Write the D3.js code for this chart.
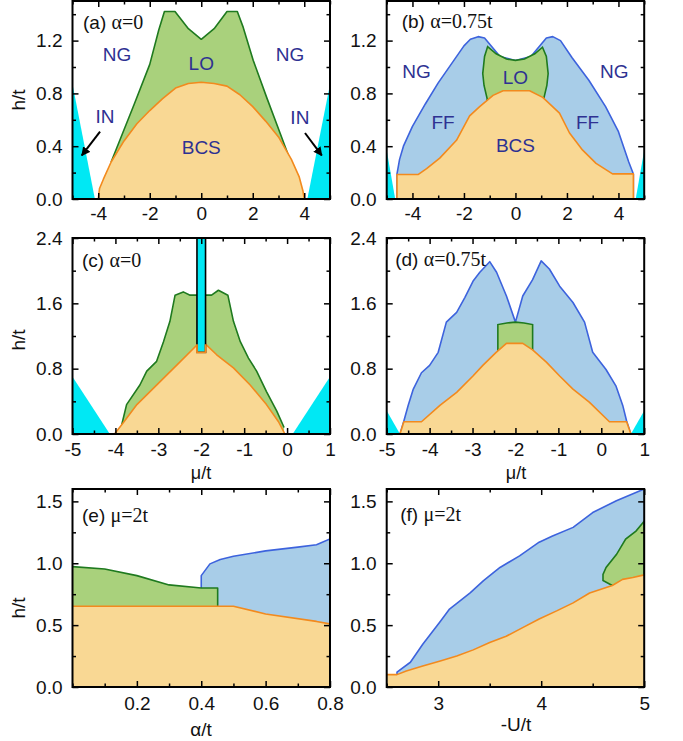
<!DOCTYPE html>
<html>
<head>
<meta charset="utf-8">
<script src="https://cdn.jsdelivr.net/npm/d3@7.9.0/dist/d3.min.js"></script>
<style>
  body { margin: 0; background: #fff; }
  text { font-family: "Liberation Sans", Arial, sans-serif; }
</style>
</head>
<body>
<svg id="chart" width="683" height="741"></svg>
<script>
// ---- data: [mu (or alpha, -U), h] pairs ----
// (a) alpha = 0
const aInLeft = [[-5, 0], [-5, 0.87], [-4.13, 0]];
const aInRight = [[4.12, 0], [5, 0.87], [5, 0]];
const aLO = [[-3.5, 0.28], [-3.05, 0.5], [-2.6, 0.72], [-2.0, 1.02], [-1.65, 1.28], [-1.43, 1.42], [-1.02, 1.42],
  [-0.5, 1.29], [0, 1.21], [0.5, 1.29], [1.0, 1.42], [1.4, 1.42], [1.63, 1.3], [2.02, 1.05], [2.54, 0.77], [3.06, 0.5], [3.48, 0.28]];
const aBCS = [[-4.0, 0], [-3.95, 0.08], [-3.8, 0.15], [-3.5, 0.28], [-3.0, 0.44], [-2.5, 0.57], [-2.0, 0.67], [-1.5, 0.76],
  [-1.0, 0.84], [-0.5, 0.875], [0, 0.885], [0.5, 0.875], [1.0, 0.855], [1.5, 0.79], [2.0, 0.7], [2.5, 0.59], [3.0, 0.47],
  [3.5, 0.3], [3.8, 0.17], [3.95, 0.06], [4.0, 0]];
const aLabels = [["NG", -3.27, 1.1], ["NG", 3.45, 1.1], ["LO", 0, 1.03], ["BCS", 0, 0.39], ["IN", -3.74, 0.63], ["IN", 3.83, 0.62]];
const aArrows = [[[-3.93, 0.51], [-4.64, 0.33]], [[4.03, 0.5], [4.68, 0.33]]];

// (b) alpha = 0.75t
const bInLeft = [[-5, 0], [-5, 0.37], [-4.67, 0]];
const bInRight = [[4.67, 0], [5, 0.37], [5, 0]];
const bFF = [[-4.6, 0], [-4.6, 0.19], [-4.5, 0.3], [-4.35, 0.4], [-4.0, 0.55], [-3.5, 0.72], [-3.0, 0.88], [-2.5, 1.02],
  [-2.0, 1.16], [-1.75, 1.21], [-1.45, 1.23], [-1.2, 1.22], [-0.6, 1.08], [0, 1.05], [0.6, 1.08], [1.2, 1.22], [1.45, 1.23],
  [1.75, 1.2], [2.2, 1.07], [2.85, 0.9], [3.5, 0.7], [4.0, 0.51], [4.4, 0.28], [4.58, 0.19], [4.58, 0]];
const bLO = [[-1.1, 0.6], [-1.1, 0.76], [-1.22, 0.86], [-1.27, 0.95], [-1.2, 1.08], [-1.08, 1.155], [-0.75, 1.1],
  [-0.35, 1.06], [0, 1.05], [0.35, 1.06], [0.75, 1.1], [1.05, 1.15], [1.2, 1.08], [1.27, 0.95], [1.22, 0.86], [1.1, 0.76], [1.1, 0.6]];
const bBCS = [[-4.6, 0], [-4.6, 0.186], [-3.77, 0.186], [-3.45, 0.23], [-2.94, 0.31], [-2.29, 0.445], [-1.78, 0.63],
  [-1.39, 0.7], [-0.87, 0.785], [-0.48, 0.82], [0.55, 0.82], [1.06, 0.77], [1.71, 0.65], [2.1, 0.5], [2.61, 0.37],
  [3.13, 0.27], [3.77, 0.19], [4.58, 0.19], [4.58, 0]];
const bLabels = [["NG", -3.84, 0.97], ["NG", 3.84, 0.97], ["LO", 0, 0.92], ["FF", -2.81, 0.58], ["FF", 2.8, 0.58], ["BCS", 0, 0.41]];

// (c) alpha = 0, shifted band
const cInLeft = [[-5, 0], [-5, 0.7], [-4.13, 0]];
const cInRight = [[0.13, 0], [1, 0.7], [1, 0]];
const cLO = [[-3.85, 0.12], [-3.74, 0.36], [-3.43, 0.6], [-3.27, 0.77], [-3.04, 0.89], [-2.88, 1.13], [-2.73, 1.38],
  [-2.61, 1.7], [-2.42, 1.74], [-2.26, 1.7], [-1.76, 1.7], [-1.6, 1.76], [-1.38, 1.7], [-1.25, 1.38], [-1.09, 1.13],
  [-0.9, 0.93], [-0.71, 0.77], [-0.48, 0.52], [-0.24, 0.28], [-0.07, 0.08]];
const cBCS = [[-4.02, 0], [-3.8, 0.15], [-3.5, 0.36], [-3.0, 0.62], [-2.5, 0.88], [-2.1, 1.09], [-1.9, 1.1],
  [-1.64, 0.97], [-1.25, 0.81], [-0.86, 0.6], [-0.48, 0.36], [-0.2, 0.15], [-0.05, 0]];
const cBarMu = [-2.1, -1.9];
const cBarH = [1.0, 2.4];

// (d) alpha = 0.75t
const dInLeft = [[-5, 0], [-5, 0.285], [-4.69, 0]];
const dInRight = [[0.69, 0], [1, 0.285], [1, 0]];
const dFF = [[-4.69, 0], [-4.6, 0.16], [-4.5, 0.35], [-4.38, 0.55], [-4.19, 0.75], [-4.0, 0.84], [-3.8, 1.0],
  [-3.61, 1.37], [-3.37, 1.49], [-3.18, 1.67], [-2.99, 1.87], [-2.83, 1.98], [-2.6, 2.11], [-2.44, 1.98], [-2.21, 1.69],
  [-2.0, 1.37], [-1.83, 1.69], [-1.6, 1.89], [-1.4, 2.12], [-1.21, 2.02], [-0.97, 1.81], [-0.66, 1.61], [-0.39, 1.37],
  [-0.2, 1.0], [0.11, 0.79], [0.34, 0.59], [0.5, 0.35], [0.59, 0.16], [0.69, 0]];
const dLO = [[-2.41, 0.95], [-2.41, 1.34], [-2.2, 1.36], [-2.0, 1.37], [-1.8, 1.36], [-1.6, 1.34], [-1.6, 0.95]];
const dBCS = [[-4.69, 0], [-4.6, 0.15], [-4.19, 0.15], [-3.76, 0.35], [-3.37, 0.51], [-2.99, 0.71], [-2.76, 0.84],
  [-2.45, 1.0], [-2.21, 1.11], [-1.83, 1.11], [-1.6, 1.03], [-1.28, 0.88], [-0.97, 0.71], [-0.66, 0.55], [-0.28, 0.39],
  [0.19, 0.15], [0.59, 0.15], [0.69, 0]];

// (e) mu = 2t, vs alpha
const eFF = [[0.4, 0.8], [0.4, 0.9], [0.427, 0.995], [0.459, 1.03], [0.5, 1.056], [0.6, 1.1], [0.7, 1.13], [0.758, 1.15], [0.8, 1.196]];
const eLO = [[0, 0.973], [0.1, 0.954], [0.2, 0.9], [0.3, 0.825], [0.4, 0.8], [0.451, 0.8], [0.451, 0.653]];
const eBCS = [[0, 0.653], [0.5, 0.653], [0.6, 0.59], [0.758, 0.53], [0.8, 0.51]];

// (f) mu = 2t, vs -U
const fFF = [[2.6, 0.1], [2.6, 0.12], [2.73, 0.2], [2.85, 0.345], [3.02, 0.53], [3.11, 0.63], [3.31, 0.76], [3.44, 0.86],
  [3.6, 0.966], [3.79, 1.06], [3.98, 1.17], [4.11, 1.22], [4.31, 1.29], [4.5, 1.41], [4.73, 1.505], [5.0, 1.6]];
const fLO = [[4.69, 0.78], [4.69, 0.82], [4.6, 0.86], [4.6, 0.91], [4.63, 0.966], [4.73, 1.07], [4.82, 1.195],
  [4.92, 1.26], [5.0, 1.34], [5.0, 0.78]];
const fBCS = [[2.5, 0.1], [2.6, 0.1], [2.69, 0.13], [2.85, 0.17], [3.02, 0.21], [3.18, 0.25], [3.34, 0.3], [3.5, 0.36],
  [3.66, 0.41], [3.82, 0.48], [3.98, 0.55], [4.15, 0.615], [4.31, 0.68], [4.47, 0.76], [4.69, 0.82], [4.79, 0.87],
  [4.89, 0.885], [5.0, 0.906]];

// ---- styles ----
const C = {
  cyan: "#00e8f4",
  bcsFill: "#f9d894", bcsLine: "#f28a1e",
  loFill: "#a9d17c", loLine: "#1f7a1f",
  ffFill: "#a8cde8", ffLine: "#3d63dd",
  text: "#2e3192"
};

const svg = d3.select("#chart");
const defs = svg.append("defs");
defs.append("marker")
  .attr("id", "arrow").attr("viewBox", "0 0 10 10").attr("refX", 9).attr("refY", 5)
  .attr("markerWidth", 4.5).attr("markerHeight", 4.5).attr("orient", "auto")
  .append("path").attr("d", "M0,0L10,5L0,10z").attr("fill", "#000");

function makePanel(id, left, top, w, h, xDom, yDom) {
  const g = svg.append("g");
  const x = d3.scaleLinear().domain(xDom).range([left, left + w]);
  const y = d3.scaleLinear().domain(yDom).range([top + h, top]);
  defs.append("clipPath").attr("id", "clip-" + id)
    .append("rect").attr("x", left).attr("y", top).attr("width", w).attr("height", h);
  const plot = g.append("g").attr("clip-path", `url(#clip-${id})`);
  const line = d3.line().x(d => x(d[0])).y(d => y(d[1]));
  const area = d3.area().x(d => x(d[0])).y0(y(0)).y1(d => y(d[1]));
  return { g, plot, x, y, line, area, left, top, w, h };
}

function poly(p, pts, fill, stroke) {
  p.plot.append("path").attr("d", p.line(pts) + "Z")
    .attr("fill", fill).attr("stroke", stroke || "none").attr("stroke-width", 1.6);
}
function region(p, pts, fill, stroke) {
  p.plot.append("path").attr("d", p.area(pts)).attr("fill", fill);
  p.plot.append("path").attr("d", p.line(pts)).attr("fill", "none")
    .attr("stroke", stroke).attr("stroke-width", 1.6).attr("stroke-linejoin", "round");
}

function labels(p, list) {
  p.g.selectAll(null).data(list).join("text")
    .attr("x", d => p.x(d[1])).attr("y", d => p.y(d[2]))
    .attr("dy", "0.36em").attr("text-anchor", "middle")
    .attr("font-size", 19).attr("fill", C.text).text(d => d[0]);
}

function title(p, tag, rest, dx, base) {
  const t = p.g.append("text").attr("x", p.left + dx).attr("y", base).attr("font-size", 19).attr("fill", "#111");
  t.append("tspan").text(tag + " ");
  t.append("tspan").attr("font-family", "'Liberation Serif', 'Times New Roman', serif").attr("font-size", 20).text(rest);
}

function axes(p, o) {
  const { g, x, y } = p;
  const bottom = y.range()[0], top = y.range()[1];
  const left = x.range()[0], right = x.range()[1];
  const xMinor = d3.range(x.domain()[0], x.domain()[1] + 1e-9, o.xStep).filter(v => !o.xMajor.some(m => Math.abs(m - v) < 1e-9));
  const yMinor = d3.range(y.domain()[0], y.domain()[1] + 1e-9, o.yStep).filter(v => !o.yMajor.some(m => Math.abs(m - v) < 1e-9));
  const style = sel => {
    sel.select(".domain").remove();
    sel.selectAll("line").attr("stroke", "#000").attr("stroke-width", 1.5);
    sel.selectAll("text").attr("font-size", 19).attr("font-family", "'Liberation Sans', Arial, sans-serif").attr("fill", "#111");
  };
  const add = (axis, tx, ty) => g.append("g").attr("transform", `translate(${tx},${ty})`).call(axis).call(style);

  add(d3.axisBottom(x).tickValues(o.xMajor).tickFormat(o.xFmt).tickSize(-6).tickPadding(o.xPad), 0, bottom);
  add(d3.axisBottom(x).tickValues(xMinor).tickFormat("").tickSize(-3.5), 0, bottom);
  add(d3.axisTop(x).tickValues(o.xMajor).tickFormat("").tickSize(-6), 0, top);
  add(d3.axisTop(x).tickValues(xMinor).tickFormat("").tickSize(-3.5), 0, top);
  add(d3.axisLeft(y).tickValues(o.yMajor).tickFormat(o.yFmt).tickSize(-6).tickPadding(10), left, 0);
  add(d3.axisLeft(y).tickValues(yMinor).tickFormat("").tickSize(-3.5), left, 0);
  add(d3.axisRight(y).tickValues(o.yMajor).tickFormat("").tickSize(-6), right, 0);
  add(d3.axisRight(y).tickValues(yMinor).tickFormat("").tickSize(-3.5), right, 0);

  g.append("rect").attr("x", left).attr("y", top).attr("width", right - left).attr("height", bottom - top)
    .attr("fill", "none").attr("stroke", "#000").attr("stroke-width", 2);
}

const intFmt = d => String(d);
const oneFmt = d => d.toFixed(1);

// ---- panel geometry ----
const colL = 72.5, colR = 386.7, pw = 257.5;

// (a)
const pa = makePanel("a", colL, 1, pw, 198, [-5, 5], [0, 1.5]);
poly(pa, aInLeft, C.cyan); poly(pa, aInRight, C.cyan);
region(pa, aLO, C.loFill, C.loLine);
region(pa, aBCS, C.bcsFill, C.bcsLine);
labels(pa, aLabels);
aArrows.forEach(a => pa.g.append("line")
  .attr("x1", pa.x(a[0][0])).attr("y1", pa.y(a[0][1])).attr("x2", pa.x(a[1][0])).attr("y2", pa.y(a[1][1]))
  .attr("stroke", "#000").attr("stroke-width", 2).attr("marker-end", "url(#arrow)"));
axes(pa, { xMajor: [-4, -2, 0, 2, 4], xStep: 1, yMajor: [0, 0.4, 0.8, 1.2], yStep: 0.2, xFmt: intFmt, yFmt: oneFmt, xPad: 8 });
title(pa, "(a)", "α=0", 10.5, 29);

// (b)
const pb = makePanel("b", colR, 1, pw, 198, [-5, 5], [0, 1.5]);
poly(pb, bInLeft, C.cyan); poly(pb, bInRight, C.cyan);
region(pb, bFF, C.ffFill, C.ffLine);
poly(pb, bLO, C.loFill, C.loLine);
region(pb, bBCS, C.bcsFill, C.bcsLine);
labels(pb, bLabels);
axes(pb, { xMajor: [-4, -2, 0, 2, 4], xStep: 1, yMajor: [0, 0.4, 0.8, 1.2], yStep: 0.2, xFmt: intFmt, yFmt: oneFmt, xPad: 8 });
title(pb, "(b)", "α=0.75t", 15, 28);

// (c)
const pc = makePanel("c", colL, 238, pw, 196, [-5, 1], [0, 2.4]);
poly(pc, cInLeft, C.cyan); poly(pc, cInRight, C.cyan);
region(pc, cLO, C.loFill, C.loLine);
region(pc, cBCS, C.bcsFill, C.bcsLine);
pc.plot.append("rect")
  .attr("x", pc.x(cBarMu[0])).attr("y", pc.y(cBarH[1]))
  .attr("width", pc.x(cBarMu[1]) - pc.x(cBarMu[0])).attr("height", pc.y(cBarH[0]) - pc.y(cBarH[1]))
  .attr("fill", C.cyan).attr("stroke", "#000").attr("stroke-width", 1.6);
pc.plot.append("path")
  .attr("d", pc.line([[cBarMu[0], 1.1], [cBarMu[0], cBarH[0]], [cBarMu[1], cBarH[0]], [cBarMu[1], 1.1]]))
  .attr("fill", "none").attr("stroke", C.bcsLine).attr("stroke-width", 1.8);
axes(pc, { xMajor: [-5, -4, -3, -2, -1, 0, 1], xStep: 0.5, yMajor: [0, 0.8, 1.6, 2.4], yStep: 0.4, xFmt: intFmt, yFmt: oneFmt, xPad: 9 });
title(pc, "(c)", "α=0", 9.5, 267);

// (d)
const pd = makePanel("d", colR, 238, pw, 196, [-5, 1], [0, 2.4]);
poly(pd, dInLeft, C.cyan); poly(pd, dInRight, C.cyan);
region(pd, dFF, C.ffFill, C.ffLine);
poly(pd, dLO, C.loFill, C.loLine);
region(pd, dBCS, C.bcsFill, C.bcsLine);
axes(pd, { xMajor: [-5, -4, -3, -2, -1, 0, 1], xStep: 0.5, yMajor: [0, 0.8, 1.6, 2.4], yStep: 0.4, xFmt: intFmt, yFmt: oneFmt, xPad: 9 });
title(pd, "(d)", "α=0.75t", 8.5, 266);

// (e)
const pe = makePanel("e", colL, 489, pw, 198, [0, 0.8], [0, 1.6]);
region(pe, eFF, C.ffFill, C.ffLine);
region(pe, eLO, C.loFill, C.loLine);
region(pe, eBCS, C.bcsFill, C.bcsLine);
axes(pe, { xMajor: [0.2, 0.4, 0.6, 0.8], xStep: 0.1, yMajor: [0, 0.5, 1.0, 1.5], yStep: 0.25, xFmt: oneFmt, yFmt: oneFmt, xPad: 10 });
title(pe, "(e)", "μ=2t", 9.5, 522);

// (f)
const pf = makePanel("f", colR, 489, pw, 198, [2.5, 5], [0, 1.6]);
region(pf, fFF, C.ffFill, C.ffLine);
poly(pf, fLO, C.loFill, C.loLine);
region(pf, fBCS, C.bcsFill, C.bcsLine);
axes(pf, { xMajor: [3, 4, 5], xStep: 0.5, yMajor: [0, 0.5, 1.0, 1.5], yStep: 0.25, xFmt: intFmt, yFmt: oneFmt, xPad: 10 });
title(pf, "(f)", "μ=2t", 13.5, 521);

// ---- axis titles ----
const axisTitle = (x, y, txt, rot, size) => svg.append("text")
  .attr("transform", `translate(${x},${y})` + (rot ? " rotate(-90)" : ""))
  .attr("text-anchor", "middle").attr("font-size", size || 19).attr("fill", "#111").text(txt);
axisTitle(25, 100, "h/t", true);
axisTitle(25, 340, "h/t", true);
axisTitle(25, 608, "h/t", true);
axisTitle(201, 479, "μ/t", false, 18);
axisTitle(516, 479, "μ/t", false, 18);
axisTitle(201, 736, "α/t");
axisTitle(516, 731, "-U/t");
</script>
</body>
</html>
